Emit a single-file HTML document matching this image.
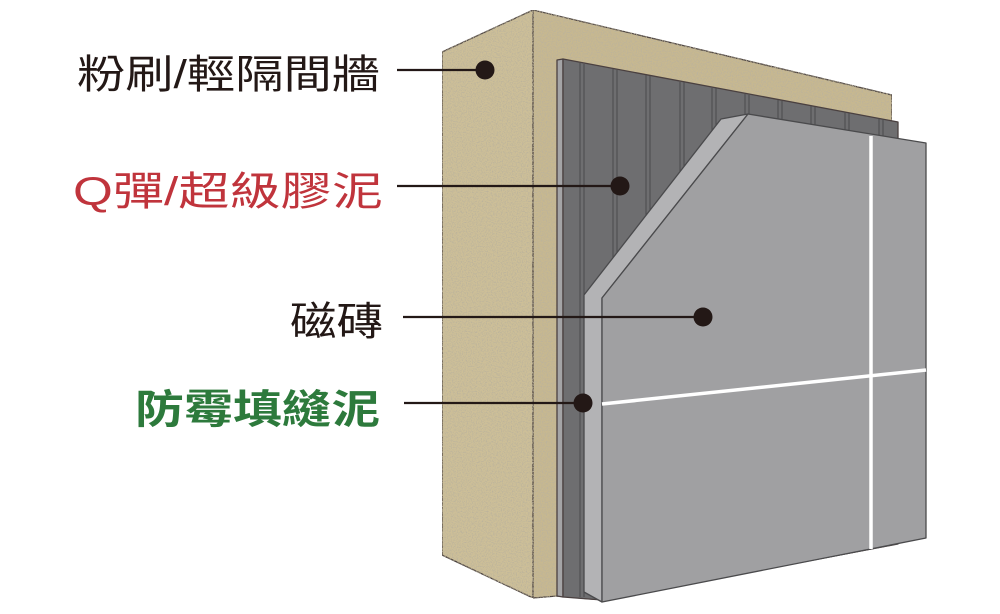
<!DOCTYPE html>
<html><head><meta charset="utf-8"><style>
html,body{margin:0;padding:0;background:#fff;width:1000px;height:614px;overflow:hidden}
</style></head><body>
<svg width="1000" height="614" viewBox="0 0 1000 614" xmlns="http://www.w3.org/2000/svg">
<defs>
<filter id="n" x="0" y="0" width="100%" height="100%">
<feTurbulence type="fractalNoise" baseFrequency="0.8" numOctaves="2" seed="3" result="t"/>
<feColorMatrix in="t" type="matrix" values="0 0 0 0 0.5  0 0 0 0 0.45  0 0 0 0 0.33  0 0 0 3 -1.3" result="c"/>
<feComposite in="c" in2="SourceGraphic" operator="in" result="m"/>
<feMerge><feMergeNode in="SourceGraphic"/><feMergeNode in="m"/></feMerge>
</filter>
<clipPath id="pc"><polygon points="563,59 898,122 898,544 602,600 563,597"/></clipPath>
</defs>
<g stroke="#4a4040" stroke-width="1.3" stroke-linejoin="round">
<polygon points="442,52 533,10 533,598 442,555" fill="#cdbf98" filter="url(#n)"/>
<polygon points="533,10 892,95 892,545 602,600 557,596 533,598" fill="#c7b890" filter="url(#n)"/>
<polygon points="557,60 563,59 563,597 557,596" fill="#a4a4a6"/>
<polygon points="563,59 898,122 898,544 602,600 563,597" fill="#6e6e70"/>
</g>
<g stroke="#4a4a4c" stroke-width="1" clip-path="url(#pc)">
<line x1="580" y1="63" x2="580" y2="597"/><line x1="584" y1="64" x2="584" y2="597"/>
<line x1="613" y1="69" x2="613" y2="597"/><line x1="617" y1="70" x2="617" y2="597"/>
<line x1="646" y1="75" x2="646" y2="597"/><line x1="650" y1="76" x2="650" y2="597"/>
<line x1="680" y1="82" x2="680" y2="597"/><line x1="684" y1="82" x2="684" y2="597"/>
<line x1="712" y1="88" x2="712" y2="597"/><line x1="716" y1="88" x2="716" y2="597"/>
<line x1="745" y1="94" x2="745" y2="597"/><line x1="749" y1="95" x2="749" y2="597"/>
<line x1="778" y1="100" x2="778" y2="597"/><line x1="782" y1="101" x2="782" y2="597"/>
<line x1="811" y1="106" x2="811" y2="597"/><line x1="815" y1="107" x2="815" y2="597"/>
<line x1="845" y1="112" x2="845" y2="597"/><line x1="849" y1="113" x2="849" y2="597"/>
<line x1="879" y1="118" x2="879" y2="597"/><line x1="883" y1="119" x2="883" y2="597"/>
</g>
<g stroke="#4a4a4c" stroke-width="1.3" stroke-linejoin="round">
<polygon points="721,119 748,114 602,298 602,602 584,592 584,295" fill="#b3b3b5"/>
<polygon points="748,114 926,143 926,538 602,602 602,298" fill="#a0a0a2"/>
</g>
<line x1="871" y1="136" x2="871" y2="549" stroke="#fff" stroke-width="3.5"/>
<line x1="602" y1="404" x2="926" y2="370" stroke="#fff" stroke-width="3.5"/>
<g stroke="#231816" stroke-width="2.2">
<line x1="397" y1="70" x2="485" y2="70"/>
<line x1="397" y1="186" x2="620" y2="186"/>
<line x1="403" y1="317" x2="703" y2="317"/>
<line x1="404" y1="403" x2="583" y2="403"/>
</g>
<g fill="#231816">
<circle cx="485" cy="70" r="9.5"/>
<circle cx="620" cy="186" r="9.5"/>
<circle cx="703" cy="317" r="9.5"/>
<circle cx="583" cy="403" r="9.5"/>
</g>
<g font-family="'Liberation Sans','Noto Sans CJK TC',sans-serif" font-size="40">
<text x="77" y="88" fill="#231816" textLength="303" lengthAdjust="spacingAndGlyphs">粉刷/輕隔間牆</text>
<text x="73" y="205" fill="#c0343c" textLength="310" lengthAdjust="spacingAndGlyphs">Q彈/超級膠泥</text>
<text x="290" y="335" fill="#231816" textLength="93" lengthAdjust="spacingAndGlyphs">磁磚</text>
<text x="135" y="423" fill="#2d7a3c" font-weight="bold" textLength="245" lengthAdjust="spacingAndGlyphs">防霉填縫泥</text>
</g>
</svg>
</body></html>
